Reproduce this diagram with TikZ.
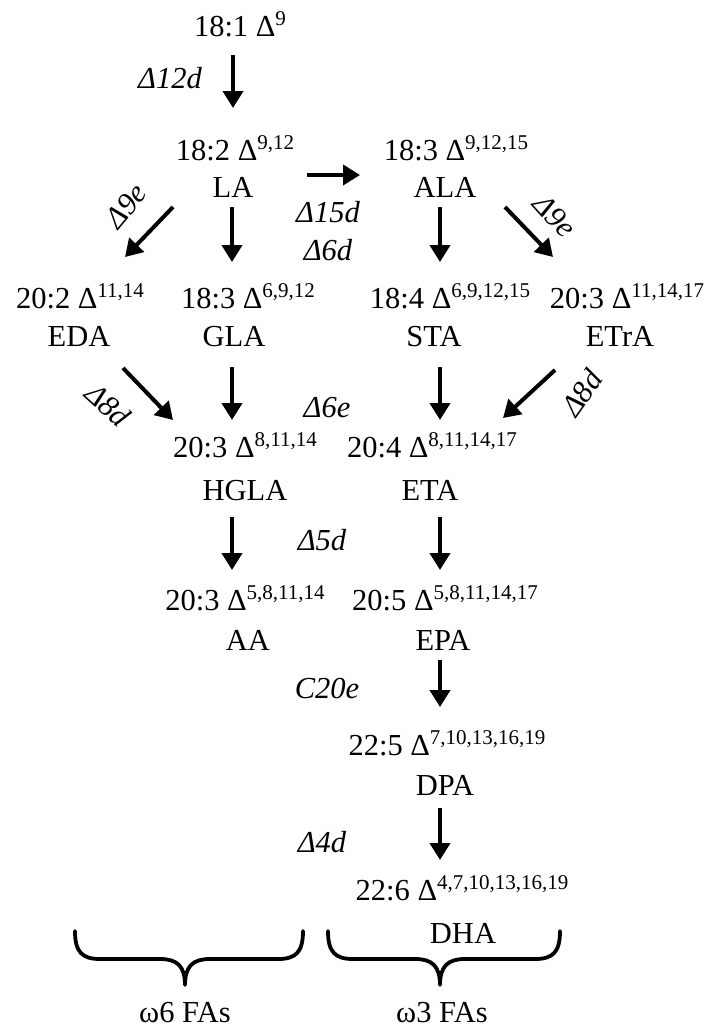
\documentclass[tikz,border=0pt]{standalone}
\usepackage{fontspec}
\setmainfont{Liberation Serif}
\usetikzlibrary{arrows.meta}
\newcommand\spx[1]{\raisebox{0.36em}{\fontsize{21pt}{21pt}\selectfont #1}}
\tikzset{
  fa/.style={font=\fontsize{30.5pt}{32pt}\selectfont, inner sep=0pt, text height=20.5pt, text depth=0pt},
  nm/.style={font=\fontsize{30.5pt}{32pt}\selectfont, inner sep=0pt, text height=20pt, text depth=0pt},
  lab/.style={font=\fontsize{30.5pt}{32pt}\selectfont\itshape, inner sep=0pt},
  arr/.style={line width=4pt, -{Triangle[length=17pt,width=20pt]}},
  bracepath/.style={line width=3.8pt, line cap=round, line join=round},
}
\begin{document}
\begin{tikzpicture}[x=1pt,y=-1pt]
\useasboundingbox (0,0) rectangle (705,1028);
% formulas and names
\node[fa] (f181) at (240,26) {18:1 Δ\spx{9}};
\node[fa] (f182) at (235,150) {18:2 Δ\spx{9,12}};
\node[nm] (la) at (233,187) {LA};
\node[fa] (f183a) at (456,150) {18:3 Δ\spx{9,12,15}};
\node[nm] (ala) at (445,187) {ALA};
\node[fa] (f202) at (80,298) {20:2 Δ\spx{11,14}};
\node[nm] (eda) at (79,336) {EDA};
\node[fa] (f183b) at (248,298) {18:3 Δ\spx{6,9,12}};
\node[nm] (gla) at (234,336) {GLA};
\node[fa] (f184) at (450,298) {18:4 Δ\spx{6,9,12,15}};
\node[nm] (sta) at (434,336) {STA};
\node[fa] (f203) at (627,298) {20:3 Δ\spx{11,14,17}};
\node[nm] (etra) at (620,336) {ETrA};
\node[fa] (f203h) at (245,447) {20:3 Δ\spx{8,11,14}};
\node[nm] (hgla) at (245,490) {HGLA};
\node[fa] (f204) at (432,447) {20:4 Δ\spx{8,11,14,17}};
\node[nm] (eta) at (430,490) {ETA};
\node[fa] (f203a) at (245,600) {20:3 Δ\spx{5,8,11,14}};
\node[nm] (aa) at (248,640) {AA};
\node[fa] (f205) at (445,600) {20:5 Δ\spx{5,8,11,14,17}};
\node[nm] (epa) at (443,640) {EPA};
\node[fa] (f225) at (447,745) {22:5 Δ\spx{7,10,13,16,19}};
\node[nm] (dpa) at (445,785) {DPA};
\node[fa] (f226) at (462,890) {22:6 Δ\spx{4,7,10,13,16,19}};
\node[nm] (dha) at (463,933) {DHA};
% enzyme labels
\node[lab] (l12d) at (170,78) {Δ12d};
\node[lab] (l15d) at (328,212) {Δ15d};
\node[lab] (l6d) at (328,250) {Δ6d};
\node[lab,rotate=50] (l9eL) at (126,206) {Δ9e};
\node[lab,rotate=-48] (l9eR) at (555,216) {Δ9e};
\node[lab,rotate=-42] (l8dL) at (108,405) {Δ8d};
\node[lab,rotate=55] (l8dR) at (582,393) {Δ8d};
\node[lab] (l6e) at (327,408) {Δ6e};
\node[lab] (l5d) at (322,540) {Δ5d};
\node[lab] (c20e) at (327,688) {C20e};
\node[lab] (l4d) at (322,842) {Δ4d};
% arrows
\draw[arr] ([xshift=-7pt,yshift=-29pt]f181.center) -- ([xshift=-2pt,yshift=42pt]f182.center);
\draw[arr] ([xshift=74pt,yshift=12pt]la.center) -- ([xshift=-85pt,yshift=12pt]ala.center);
\draw[arr] ([xshift=-60pt,yshift=-20pt]la.center) -- ([xshift=45pt,yshift=41pt]f202.center);
\draw[arr] ([xshift=-1pt,yshift=-20pt]la.center) -- ([xshift=-16pt,yshift=36pt]f183b.center);
\draw[arr] ([xshift=-5pt,yshift=-20pt]ala.center) -- ([xshift=-10pt,yshift=36pt]f184.center);
\draw[arr] ([xshift=60pt,yshift=-20pt]ala.center) -- ([xshift=-74pt,yshift=41pt]f203.center);
\draw[arr] ([xshift=44pt,yshift=-32pt]eda.center) -- ([xshift=-72pt,yshift=27pt]f203h.center);
\draw[arr] ([xshift=-2pt,yshift=-31pt]gla.center) -- ([xshift=-13pt,yshift=27pt]f203h.center);
\draw[arr] ([xshift=6pt,yshift=-31pt]sta.center) -- ([xshift=8pt,yshift=27pt]f204.center);
\draw[arr] ([xshift=-65pt,yshift=-34pt]etra.center) -- ([xshift=71pt,yshift=29pt]f204.center);
\draw[arr] ([xshift=-13pt,yshift=-27pt]hgla.center) -- ([xshift=-13pt,yshift=30pt]f203a.center);
\draw[arr] ([xshift=10pt,yshift=-27pt]eta.center) -- ([xshift=-5pt,yshift=30pt]f205.center);
\draw[arr] ([xshift=-3pt,yshift=-20pt]epa.center) -- ([xshift=-7pt,yshift=38pt]f225.center);
\draw[arr] ([xshift=-5pt,yshift=-23pt]dpa.center) -- ([xshift=-22pt,yshift=30pt]f226.center);
% braces
\draw[bracepath] (75,931) .. controls (75,952) and (82,959) .. (100,959) -- (160,959)
  .. controls (177,959) and (185,966) .. (185,985)
  .. controls (185,966) and (193,959) .. (210,959) -- (278,959)
  .. controls (296,959) and (303,952) .. (303,931);
\draw[bracepath] (328,931) .. controls (328,952) and (335,959) .. (353,959) -- (415,959)
  .. controls (432,959) and (440,966) .. (440,985)
  .. controls (440,966) and (448,959) .. (465,959) -- (535,959)
  .. controls (553,959) and (560,952) .. (560,931);
\node[nm] (w6) at (185,1012) {ω6 FAs};
\node[nm] (w3) at (442,1012) {ω3 FAs};
\end{tikzpicture}
\end{document}
